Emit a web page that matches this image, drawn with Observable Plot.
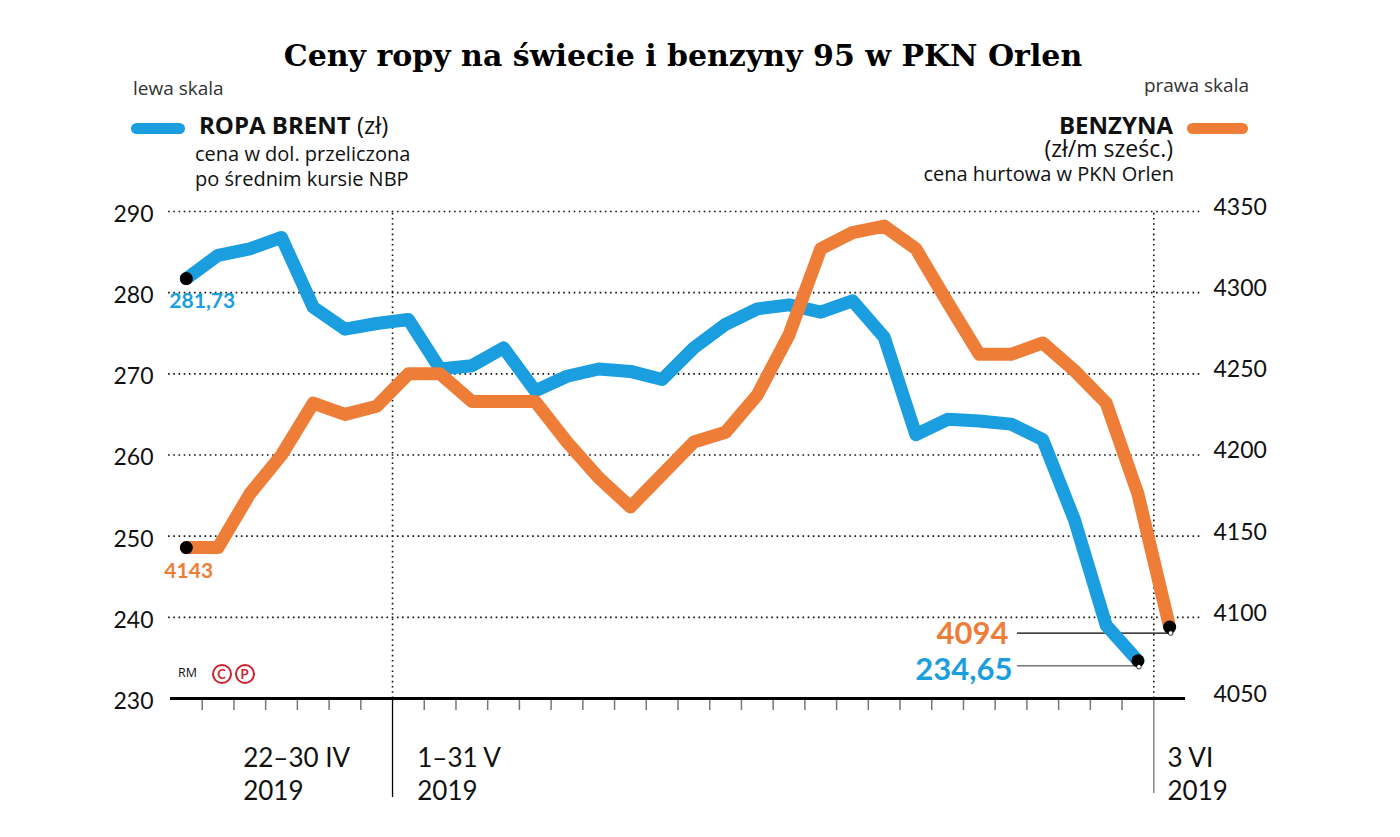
<!DOCTYPE html>
<html><head><meta charset="utf-8">
<script src="https://cdn.jsdelivr.net/npm/d3@7"></script>
<script src="https://cdn.jsdelivr.net/npm/@observablehq/plot@0.6"></script>
<style>
body{margin:0;background:#fff;}
#wrap{position:relative;width:1400px;height:837px;overflow:hidden;font-family:"Open Sans",Lato,sans-serif;color:#111;background:#fff;}
#chart{position:absolute;left:0;top:0;}
.abs{position:absolute;white-space:nowrap;line-height:1;}
.sw{position:absolute;height:11px;border-radius:6px;}
.circ{position:absolute;width:16px;height:16px;border:2px solid #cf1f2f;border-radius:50%;color:#cf1f2f;font:bold 13px Lato,sans-serif;text-align:center;line-height:16px;}
</style></head><body><div id="wrap">
<div class="abs" style="left:0;width:1366px;text-align:center;top:37.5px;font:bold 30px 'DejaVu Serif',serif;color:#000;">Ceny ropy na świecie i benzyny 95 w PKN Orlen</div>
<div class="abs" style="left:133px;top:78.6px;font-size:19px;color:#333;">lewa skala</div>
<div class="sw" style="left:131px;top:122.5px;width:54px;background:#1a9ee0;"></div>
<div class="abs" style="left:199px;top:112.7px;font-size:24px;"><b>ROPA BRENT</b> (zł)</div>
<div class="abs" style="left:195px;top:142.3px;font-size:20px;line-height:24.4px;">cena w dol. przeliczona<br>po średnim kursie NBP</div>
<div class="abs" style="right:151px;top:76.4px;font-size:19px;color:#333;">prawa skala</div>
<div class="sw" style="left:1187px;top:122.5px;width:61px;background:#ee7d38;"></div>
<div class="abs" style="right:227px;top:112.7px;font-size:24px;line-height:23px;font-weight:bold;">BENZYNA</div>
<div class="abs" style="right:227px;top:136.8px;font-size:23px;line-height:22px;">(zł/m sześc.)</div>
<div class="abs" style="right:226px;top:163.9px;font-size:20px;">cena hurtowa w PKN Orlen</div>
<div id="chart"></div>
<div class="abs" style="left:178px;top:667px;font-size:12.5px;">RM</div>
<div class="circ" style="left:211.5px;top:663.5px;">C</div>
<div class="circ" style="left:234.5px;top:663.5px;">P</div>
</div>
<script>
// ---- data ----
const brent = [281.73, 284.6, 285.4, 286.8, 278.2, 275.5, 276.2, 276.7, 270.6, 271.0, 273.2, 267.9, 269.7, 270.6, 270.3, 269.3,
  273.2, 276.1, 278.0, 278.5, 277.6, 279.0, 274.5, 262.5, 264.4, 264.2, 263.8, 261.9, 252.0, 239.0, 234.65];
const benzyna = [4143, 4143, 4176, 4200, 4232, 4225, 4230, 4250, 4250, 4233, 4233, 4233, 4208, 4186, 4168, 4188,
  4208, 4214, 4237, 4274, 4327, 4337, 4341, 4327, 4294, 4262, 4262, 4269, 4252, 4232, 4176, 4094];
const leftTicks = [230, 240, 250, 260, 270, 280, 290];
const rightTicks = [4050, 4100, 4150, 4200, 4250, 4300, 4350];
const periods = [
  {start: 0, label: "22–30 IV\n2019"},
  {start: 7, label: "1–31 V\n2019"},
  {start: 31, label: "3 VI\n2019"}
];
const nSlots = 32;

const BLUE = "#1a9ee0", ORANGE = "#ee7d38";
const toLeft = d3.scaleLinear([rightTicks[0], rightTicks[rightTicks.length-1]], [leftTicks[0], leftTicks[leftTicks.length-1]]);
const toRight = d3.scaleLinear([leftTicks[0], leftTicks[leftTicks.length-1]], [rightTicks[0], rightTicks[rightTicks.length-1]]);
const fmt = v => (Number.isInteger(v) ? String(v) : v.toFixed(2).replace(".", ","));

const bPts = brent.map((v, i) => ({x: i + 0.5, y: v, v}));
const oPts = benzyna.map((v, i) => ({x: i + 0.5, y: toLeft(v), v}));
const seps = periods.slice(1).map(p => p.start);
const minor = d3.range(1, nSlots).filter(t => !seps.includes(t));
const calloutX = 26.7;
const bFirst = bPts[0], bLast = bPts[bPts.length-1], oFirst = oPts[0], oLast = oPts[oPts.length-1];
const dotted = {stroke: "#111", strokeWidth: 1.6, strokeDasharray: "1.6 3.6"};

const chart = Plot.plot({
  width: 1400, height: 837,
  marginTop: 211, marginBottom: 139, marginLeft: 170, marginRight: 215,
  x: {domain: [0, nSlots]},
  y: {domain: [leftTicks[0], leftTicks[leftTicks.length-1]]},
  style: {fontFamily: "Lato, 'Open Sans', sans-serif", background: "transparent", overflow: "visible", color: "#111"},
  marks: [
    Plot.ruleY(leftTicks.slice(1), {x1: -0.06, x2: nSlots + 0.53, ...dotted}),
    Plot.ruleX(seps, {y1: leftTicks[0], y2: leftTicks[leftTicks.length-1], ...dotted}),
    Plot.axisX(minor, {tickSize: 12, tickFormat: () => "", stroke: "#777", strokeWidth: 1.5, label: null}),
    Plot.axisX([seps[0]], {tickSize: 99, tickFormat: () => "", stroke: "#000", strokeWidth: 1.3, label: null}),
    Plot.axisX([seps[1]], {tickSize: 95, tickFormat: () => "", stroke: "#888", strokeWidth: 1.5, label: null}),
    Plot.ruleY([leftTicks[0]], {stroke: "#000", strokeWidth: 3}),
    Plot.axisY(leftTicks, {anchor: "left", tickSize: 0, tickPadding: 17, fontSize: 23, dy: 3, label: null, fill: "#111"}),
    Plot.axisY(leftTicks, {anchor: "right", tickSize: 0, tickPadding: 28, fontSize: 23, dy: -4, label: null, fill: "#111",
      tickFormat: d => String(Math.round(toRight(d)))}),
    // period labels
    Plot.text([periods[0]], {x: "start", y: () => leftTicks[0], text: "label", textAnchor: "start", lineAnchor: "top", dx: 72.7, dy: 45, fontSize: 26, lineHeight: 1.28, fill: "#111"}),
    Plot.text([periods[1]], {x: "start", y: () => leftTicks[0], text: "label", textAnchor: "start", lineAnchor: "top", dx: 24.7, dy: 45, fontSize: 26, lineHeight: 1.28, fill: "#111"}),
    Plot.text([periods[2]], {x: "start", y: () => leftTicks[0], text: "label", textAnchor: "start", lineAnchor: "top", dx: 13.7, dy: 45, fontSize: 26, lineHeight: 1.28, fill: "#111"}),
    // leader lines
    Plot.ruleY([oLast], {y: "y", x1: () => calloutX, x2: "x", dy: 6, stroke: "#000", strokeWidth: 1.3}),
    Plot.ruleY([bLast], {y: "y", x1: () => calloutX, x2: "x", dy: 5, stroke: "#777", strokeWidth: 1.5}),
    // lines
    Plot.line(bPts, {x: "x", y: "y", stroke: BLUE, strokeWidth: 13, strokeLinejoin: "round", strokeLinecap: "round"}),
    Plot.line(oPts, {x: "x", y: "y", stroke: ORANGE, strokeWidth: 13, strokeLinejoin: "round", strokeLinecap: "round"}),
    // end dots
    Plot.dot([bFirst, oFirst, bLast, oLast], {x: "x", y: "y", r: 6.5, fill: "#000"}),
    Plot.dot([bLast, oLast], {x: "x", y: "y", r: 2.3, fill: "#fff", stroke: "#000", strokeWidth: 0.8, dx: 1, dy: 6}),
    // value labels
    Plot.text([bFirst], {x: "x", y: "y", text: d => fmt(d.v), textAnchor: "start", dx: -17, dy: 23, fontSize: 21, fontWeight: "bold", fill: BLUE}),
    Plot.text([oFirst], {x: "x", y: "y", text: d => fmt(d.v), textAnchor: "start", dx: -22, dy: 24, fontSize: 21, fontWeight: "bold", fill: ORANGE}),
    Plot.text([oLast], {x: () => calloutX, y: "y", text: d => fmt(d.v), textAnchor: "end", dx: -9, dy: 7, fontSize: 31, fontWeight: "bold", fill: ORANGE}),
    Plot.text([bLast], {x: () => calloutX, y: "y", text: d => fmt(d.v), textAnchor: "end", dx: -5, dy: 9, fontSize: 31, fontWeight: "bold", fill: BLUE})
  ]
});
document.getElementById("chart").appendChild(chart);
</script>
</body></html>
